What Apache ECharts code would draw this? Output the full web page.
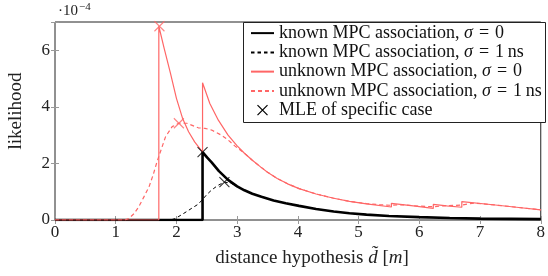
<!DOCTYPE html>
<html>
<head>
<meta charset="utf-8">
<script src="https://cdn.jsdelivr.net/npm/echarts@6/dist/echarts.min.js"></script>
<style>
  html, body { margin: 0; padding: 0; background: #fff; }
  #chart { width: 548px; height: 276px; }
</style>
</head>
<body>
<div id="chart"></div>
<script>
// values in units of 1e-4, x in metres
const knownSigma0 = [
  [0, 0], [2.43, 0], [2.43, 2.4], [2.5, 2.22], [2.58, 2.04], [2.7, 1.73], [2.85, 1.42],
  [3.0, 1.19], [3.12, 1.05], [3.25, 0.93], [3.4, 0.82], [3.6, 0.69], [3.8, 0.59],
  [4.02, 0.5], [4.3, 0.39], [4.59, 0.3], [4.85, 0.24], [5.13, 0.19], [5.5, 0.14],
  [6.0, 0.1], [6.5, 0.07], [7, 0.05], [7.5, 0.04], [8, 0.03]
];
const knownSigma1 = [
  [0, 0], [1.9, 0], [1.98, 0.05], [2.08, 0.18], [2.17, 0.3], [2.27, 0.44], [2.36, 0.56],
  [2.44, 0.75], [2.5, 0.9], [2.58, 1.06], [2.68, 1.22], [2.79, 1.34], [2.9, 1.3],
  [3.0, 1.19], [3.12, 1.05], [3.25, 0.93], [3.4, 0.82], [3.6, 0.69], [3.8, 0.59],
  [4.02, 0.5], [4.3, 0.39], [4.59, 0.3], [4.85, 0.24], [5.13, 0.19], [5.5, 0.14],
  [6.0, 0.1], [6.5, 0.07], [7, 0.05], [7.5, 0.04], [8, 0.03]
];
const unknownSigma0 = [
  [0, 0], [1.71, 0], [1.71, 6.85], [1.8, 6.05], [1.9, 5.2], [2.0, 4.3], [2.1, 3.6],
  [2.2, 3.12], [2.3, 2.76], [2.43, 2.4], [2.43, 4.85], [2.55, 4.12], [2.69, 3.53],
  [2.85, 3.0], [3.0, 2.62], [3.12, 2.36], [3.25, 2.11], [3.39, 1.87], [3.5, 1.69],
  [3.66, 1.47], [3.84, 1.27], [4.02, 1.11], [4.3, 0.92], [4.59, 0.77], [4.85, 0.66],
  [5.13, 0.57], [5.54, 0.46], [5.54, 0.59], [5.9, 0.5], [6.23, 0.41], [6.23, 0.55],
  [6.45, 0.5], [6.7, 0.45], [6.7, 0.65], [7.25, 0.53], [7.6, 0.45], [8, 0.36]
];
const unknownSigma1 = [
  [0, 0], [1.15, 0], [1.22, 0.06], [1.3, 0.22], [1.38, 0.47], [1.46, 0.8], [1.55, 1.18],
  [1.62, 1.62], [1.68, 2.06], [1.75, 2.5], [1.82, 2.94], [1.93, 3.3], [2.04, 3.42],
  [2.17, 3.42], [2.36, 3.26], [2.47, 3.24], [2.58, 3.18], [2.74, 3.0], [2.85, 2.83],
  [2.96, 2.62], [3.12, 2.36], [3.25, 2.11], [3.39, 1.87], [3.5, 1.69], [3.66, 1.47],
  [3.84, 1.27], [4.02, 1.11], [4.3, 0.92], [4.59, 0.77], [4.85, 0.66], [5.13, 0.58],
  [5.35, 0.54], [5.54, 0.52], [5.7, 0.54], [6.0, 0.49], [6.23, 0.47], [6.4, 0.5],
  [6.7, 0.53], [6.9, 0.6], [7.25, 0.53], [7.6, 0.45], [8, 0.36]
];
const mleKnown = [[2.43, 2.4], [2.79, 1.34]];
const mleUnknown = [[1.72, 6.85], [2.04, 3.42]];
const xTicks = [0, 1, 2, 3, 4, 5, 6, 7, 8];
const yTicks = [0, 2, 4, 6];

const pink = '#ff6666';
const serif = 'Liberation Serif';
const cross = 'path://M0,0L10,10M10,0L0,10';

const chart = echarts.init(document.getElementById('chart'));

const baseX = {
  type: 'value', min: xTicks[0], max: xTicks[xTicks.length - 1], interval: 1,
  axisLine: { show: false }, splitLine: { show: false },
  axisTick: { inside: true, length: 4, lineStyle: { color: '#999' } }
};
const baseY = {
  type: 'value', min: 0, max: 7, interval: 2,
  axisLine: { show: false }, splitLine: { show: false },
  axisTick: { inside: true, length: 4, lineStyle: { color: '#999' } }
};

function crossSeries(name, pts, color) {
  return {
    name: name, type: 'scatter', data: pts, symbol: cross, symbolSize: 10, z: 5,
    itemStyle: { color: 'transparent', borderColor: color, borderWidth: 1.1 }
  };
}

const sp = '\u2004';
const nameK0 = 'known MPC association, σ' + sp + '=' + sp + '0';
const nameK1 = 'known MPC association, σ' + sp + '=' + sp + '1\u2009ns';
const nameU0 = 'unknown MPC association, σ' + sp + '=' + sp + '0';
const nameU1 = 'unknown MPC association, σ' + sp + '=' + sp + '1\u2009ns';
const nameMle = 'MLE of specific case';

chart.setOption({
  animation: false,
  grid: { left: 55, right: 2, top: 22, bottom: 56, show: true, borderColor: '#222', borderWidth: 1 },
  xAxis: [
    Object.assign({}, baseX, {
      position: 'bottom',
      axisLabel: { fontFamily: serif, fontSize: 17, color: '#222', margin: 4,
        alignMinLabel: 'center', alignMaxLabel: 'center' }
    }),
    Object.assign({}, baseX, { position: 'top', axisLabel: { show: false } })
  ],
  yAxis: [
    Object.assign({}, baseY, {
      position: 'left',
      axisLabel: {
        fontFamily: serif, fontSize: 17, color: '#222', margin: 5,
        formatter: v => (yTicks.indexOf(v) >= 0 ? String(v) : '')
      }
    }),
    Object.assign({}, baseY, { position: 'right', axisLabel: { show: false } })
  ],
  legend: {
    orient: 'vertical', left: 245, top: 22, padding: [1.5, 5, 1, 5],
    itemWidth: 23, itemHeight: 10, itemGap: 0,
    icon: 'inherit',
    itemStyle: { opacity: 0 },
    selectedMode: false, z: 6,
    data: [
      nameK0, nameK1, nameU0, nameU1,
      { name: nameMle, icon: cross,
        itemStyle: { opacity: 1, color: 'transparent', borderColor: '#000', borderWidth: 1.2 } }
    ],
    formatter: n => n.replace('σ', '{i|σ}'),
    textStyle: {
      fontFamily: serif, fontSize: 18, color: '#111', lineHeight: 19.25,
      rich: { i: { fontFamily: serif, fontSize: 18, fontStyle: 'italic', lineHeight: 19.25 } }
    }
  },
  graphic: [
    { type: 'rect', z: 4, shape: { x: 243.5, y: 22.5, width: 302, height: 100 },
      style: { fill: '#fff', stroke: '#222', lineWidth: 1 } },
    { type: 'text', left: 58, top: 2,
      style: { text: '·10{s|−4}', fontFamily: serif, fontSize: 15, fill: '#222',
        rich: { s: { fontFamily: serif, fontSize: 11, verticalAlign: 'top', padding: [0, 0, 8, 1] } } } },
    { type: 'text', x: 16, y: 111, rotation: Math.PI / 2,
      style: { text: 'likelihood', fontFamily: serif, fontSize: 19, fill: '#222', align: 'center', verticalAlign: 'middle' } },
    { type: 'text', x: 312, y: 258,
      style: { text: 'distance hypothesis {i|d\u0303} [{i|m}]', fontFamily: serif, fontSize: 19, fill: '#222',
        align: 'center', verticalAlign: 'middle',
        rich: { i: { fontFamily: serif, fontSize: 19, fontStyle: 'italic' } } } }
  ],
  series: [
    { name: nameK0, type: 'line', data: knownSigma0, symbol: 'none',
      color: '#000', lineStyle: { color: '#000', width: 2.6 } },
    { name: nameK1, type: 'line', data: knownSigma1, symbol: 'none',
      color: '#000', lineStyle: { color: '#000', width: 1, type: [3.5, 3] } },
    { name: nameU0, type: 'line', data: unknownSigma0, symbol: 'none',
      color: pink, lineStyle: { color: pink, width: 1.2 } },
    { name: nameU1, type: 'line', data: unknownSigma1, symbol: 'none',
      color: pink, lineStyle: { color: pink, width: 1.2, type: [4, 3] } },
    crossSeries(nameMle, mleKnown, '#000'),
    crossSeries(nameMle, mleUnknown, pink)
  ]
});
</script>
</body>
</html>
